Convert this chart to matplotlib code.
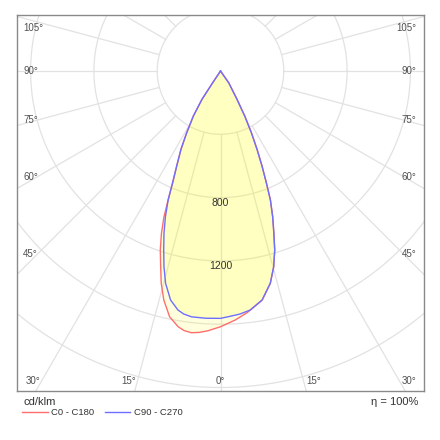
import numpy as np
import matplotlib.pyplot as plt
from matplotlib.lines import Line2D

plt.rcParams['font.family'] = ['Liberation Sans', 'DejaVu Sans']

# gamma angle from nadir (deg) and luminous intensity (cd/klm)
# C0 (right half of the red curve)
c0_gamma = [0, 3.4, 6.3, 10.3, 13.2, 15.2, 16.85, 18.2, 19.7, 21.15, 22.3, 23.6, 25.0, 26.6, 28.3, 30.25, 35.0, 36.5]
c0_cd = [1616, 1576, 1536, 1471, 1378, 1282, 1182, 1080, 978, 874, 764, 656, 547, 436, 323, 207, 90, 0]
# C180 (left half of the red curve)
c180_gamma = [0, 2.75, 4.6, 6.35, 8.0, 9.4, 11.7, 13.9, 15.6, 17.0, 18.6, 20.0, 21.2, 22.1, 23.2, 24.75, 26.8, 28.7, 31.1, 33.2, 33.7, 35.0]
c180_cd = [1616, 1643, 1657, 1664, 1656, 1638, 1586, 1491, 1393, 1293, 1193, 1091, 988, 880, 768, 661, 554, 445, 332, 214, 89, 0]
# C90 (right half of the blue curve)
c90_gamma = [0, 1.9, 4.5, 7.1, 10.3, 13.2, 15.2, 16.85, 18.2, 19.7, 21.15, 22.3, 23.6, 25.0, 26.6, 28.3, 30.25, 35.0, 36.5]
c90_cd = [1563, 1553, 1541, 1522, 1471, 1378, 1282, 1182, 1080, 978, 874, 764, 656, 547, 436, 323, 207, 90, 0]
# C270 (left half of the blue curve)
c270_gamma = [0, 3.4, 6.75, 8.6, 10.1, 12.3, 14.5, 16.1, 17.6, 19.2, 20.7, 22.1, 23.2, 24.75, 26.8, 28.7, 31.1, 33.2, 33.7, 35.0]
c270_cd = [1563, 1565, 1564, 1553, 1534, 1481, 1386, 1288, 1187, 1086, 985, 880, 768, 661, 554, 445, 332, 214, 89, 0]

ring_values = [400, 800, 1200, 1600, 2000, 2400, 2800]
ring_labels = [800, 1200]
side_angles = [45, 60, 75, 90, 105]
bottom_angles = [0, 15, 30]

GRID = '#e2e2e2'
TXT = '#505050'
RED = '#ff6e6e'
BLUE = '#6e6eff'


def outline(lg, lv, rg, rv):
    lg, lv = np.radians(lg), np.array(lv)
    rg, rv = np.radians(rg), np.array(rv)
    x = np.concatenate([-(lv * np.sin(lg))[::-1], rv * np.sin(rg)])
    y = np.concatenate([-(lv * np.cos(lg))[::-1], -rv * np.cos(rg)])
    return x, y


fig = plt.figure(figsize=(4.4, 4.4), dpi=100)
ax = fig.add_axes([17 / 440, 1 - 391 / 440, 407 / 440, 376 / 440])
ax.set_xlim(-1286, 1286)
ax.set_ylim(-2022, 354)
ax.set_xticks([])
ax.set_yticks([])
for s in ax.spines.values():
    s.set_color('#8a8a8a')
    s.set_linewidth(1)

# polar grid
t = np.linspace(0, 2 * np.pi, 400)
for r in ring_values:
    ax.plot(r * np.cos(t), r * np.sin(t), color=GRID, lw=0.9, zorder=1)
for a in range(0, 360, 15):
    ar = np.radians(a)
    ax.plot([400 * np.sin(ar), 4000 * np.sin(ar)], [-400 * np.cos(ar), -4000 * np.cos(ar)],
            color=GRID, lw=0.9, zorder=1)

# curves
xr, yr = outline(c180_gamma, c180_cd, c0_gamma, c0_cd)
xb, yb = outline(c270_gamma, c270_cd, c90_gamma, c90_cd)
ax.fill(xr, yr, color='#ffff00', alpha=0.13, lw=0, zorder=2)
ax.fill(xb, yb, color='#ffff00', alpha=0.13, lw=0, zorder=2)
ax.plot(xr, yr, color=RED, lw=1, zorder=3)
ax.plot(xb, yb, color=BLUE, lw=1, zorder=3)

for v in ring_labels:
    ax.text(0, -v, str(v), ha='center', va='top', fontsize=7.5, color='#333333', zorder=4)

# angle labels
for a in side_angles:
    ar = np.radians(a)
    y = min(-1157 * np.cos(ar) / np.sin(ar), 354 - 80)
    ax.text(-1248, y, f'{a}°', ha='left', va='center', fontsize=7, color=TXT)
    ax.text(1240, y, f'{a}°', ha='right', va='center', fontsize=7, color=TXT)
for a in bottom_angles:
    if a == 0:
        ax.text(0, -1959, '0°', ha='center', va='center', fontsize=7, color=TXT)
        continue
    x = 1959 * np.tan(np.radians(a))
    ax.text(-x - 10, -1959, f'{a}°', ha='right', va='center', fontsize=7, color=TXT)
    ax.text(x + 15, -1959, f'{a}°', ha='left', va='center', fontsize=7, color=TXT)

fig.text(23 / 440, 1 - 402 / 440, 'cd/klm', va='center', fontsize=8, color='#333333')
fig.text(418 / 440, 1 - 402 / 440, 'η = 100%', ha='right', va='center', fontsize=8, color='#333333')

handles = [Line2D([], [], color=RED, lw=1), Line2D([], [], color=BLUE, lw=1)]
fig.legend(handles, ['C0 - C180', 'C90 - C270'], loc='center left',
           bbox_to_anchor=(22 / 440, 1 - 412.7 / 440), ncol=2, frameon=False, fontsize=6.8,
           borderpad=0, borderaxespad=0, handlelength=2.7, handletextpad=0.35,
           columnspacing=1.15, labelcolor='#333333')

fig.savefig('out.png', dpi=100)
